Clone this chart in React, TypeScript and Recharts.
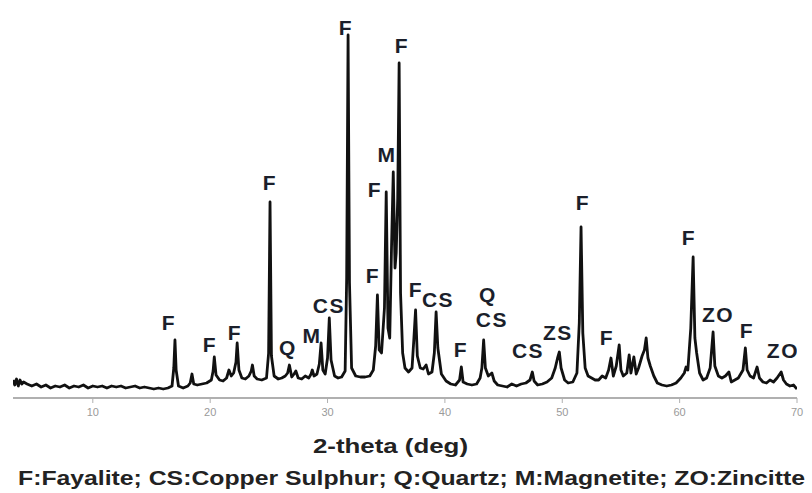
import React from "react";
import { ComposedChart, Line, Scatter, XAxis, YAxis } from "recharts";

// 2-theta positions (deg)
const twoTheta = [
  3.2, 3.35, 3.5, 3.65, 3.8, 3.95, 4.1, 4.4, 4.8, 5.2, 5.6, 6.0, 6.4,
  6.8, 7.2, 7.6, 8.0, 8.4, 8.8, 9.2, 9.6, 10.0, 10.4,
  10.8, 11.2, 11.6, 12.0, 12.4, 12.8, 13.2, 13.6, 14.0, 14.4,
  14.8, 15.2, 15.6, 16.0, 16.4, 16.75, 16.9, 17.0, 17.1, 17.3,
  17.7, 18.1, 18.3, 18.45, 18.6, 18.9, 19.3, 19.7, 20.1, 20.25,
  20.35, 20.5, 20.8, 21.1, 21.4, 21.6, 21.8, 22.0, 22.2, 22.3,
  22.45, 22.7, 23.0, 23.3, 23.5, 23.6, 23.75, 24.0, 24.4, 24.8,
  24.98, 25.1, 25.22, 25.45, 25.8, 26.1, 26.4, 26.6, 26.75, 26.95,
  27.15, 27.3, 27.5, 27.8, 28.1, 28.4, 28.6, 28.7, 28.85, 29.1,
  29.3, 29.45, 29.6, 29.8, 30.0, 30.15, 30.3, 30.6, 30.9, 31.2,
  31.5, 31.63, 31.75, 31.87, 32.05, 32.4, 32.8, 33.2, 33.6, 33.9,
  34.1, 34.25, 34.4, 34.6, 34.85, 35.0, 35.15, 35.3, 35.45, 35.6,
  35.75, 35.85, 35.98, 36.1, 36.22, 36.4, 36.6, 36.9, 37.2, 37.35,
  37.5, 37.65, 37.9, 38.15, 38.4, 38.6, 38.9, 39.1, 39.25, 39.4,
  39.7, 40.1, 40.5, 40.9, 41.25, 41.4, 41.55, 41.9, 42.3, 42.7,
  43.0, 43.15, 43.3, 43.45, 43.7, 44.0, 44.2, 44.5, 44.9, 45.3,
  45.7, 46.1, 46.5, 46.9, 47.25, 47.45, 47.6, 47.9, 48.3, 48.7,
  49.1, 49.4, 49.6, 49.75, 49.9, 50.2, 50.5, 50.9, 51.25, 51.45,
  51.6, 51.75, 51.95, 52.2, 52.5, 52.8, 53.1, 53.4, 53.7, 53.95,
  54.15, 54.35, 54.6, 54.85, 55.0, 55.2, 55.5, 55.7, 55.85, 56.1,
  56.3, 56.5, 56.8, 57.0, 57.15, 57.3, 57.5, 57.8, 58.1, 58.5,
  58.9, 59.3, 59.7, 60.1, 60.4, 60.55, 60.7, 60.95, 61.15, 61.3,
  61.45, 61.7, 62.0, 62.3, 62.6, 62.85, 63.0, 63.3, 63.6, 63.9,
  64.2, 64.4, 64.7, 65.0, 65.4, 65.6, 65.75, 66.0, 66.3, 66.6,
  66.8, 67.1, 67.4, 67.7, 68.0, 68.3, 68.65, 68.85, 69.1, 69.4,
  69.7, 70.0,
];

// Intensity (a.u.)
const intensity = [
  18, 13, 19, 12, 18, 14, 16, 14, 12, 14, 11, 13, 10,
  12, 11, 13, 10, 12, 11, 13, 10, 12, 11,
  12, 10, 12, 11, 12, 10, 11, 12, 10, 11,
  10, 9, 10, 9, 10, 12, 30, 58, 28, 12,
  10, 12, 15, 24, 14, 13, 14, 15, 18, 27,
  41, 23, 18, 17, 20, 28, 22, 25, 36, 55,
  28, 20, 19, 22, 27, 33, 22, 19, 18, 20,
  45, 196, 42, 22, 19, 20, 22, 25, 33, 21,
  24, 27, 20, 19, 22, 20, 24, 28, 22, 24,
  34, 55, 28, 24, 40, 80, 38, 22, 20, 21,
  27, 120, 363, 115, 30, 22, 21, 21, 22, 28,
  52, 103, 48, 45, 90, 206, 70, 60, 150, 226,
  130, 145, 200, 335, 105, 45, 30, 26, 30, 58,
  88, 42, 30, 29, 33, 24, 26, 45, 86, 50,
  24, 17, 14, 13, 18, 31, 16, 14, 13, 14,
  20, 30, 58, 30, 22, 25, 17, 13, 12, 11,
  14, 12, 14, 15, 18, 26, 17, 13, 14, 16,
  20, 30, 40, 46, 30, 18, 15, 16, 25, 75,
  171, 65, 30, 22, 20, 18, 18, 22, 20, 28,
  40, 22, 32, 53, 28, 22, 25, 43, 25, 41,
  24, 30, 42, 48, 60, 40, 32, 22, 15, 13,
  12, 13, 15, 20, 25, 31, 28, 70, 141, 60,
  45, 25, 18, 20, 30, 66, 32, 22, 20, 22,
  26, 16, 18, 20, 28, 50, 28, 22, 20, 31,
  20, 16, 15, 18, 16, 20, 26, 18, 14, 12,
  13, 9,
];

// Phase labels (text, 2-theta position, height)
const labelText = ["F", "F", "F", "F", "Q", "M", "CS", "F", "F", "F", "M", "F", "F", "CS", "F", "Q", "CS", "CS", "ZS", "F", "F", "F", "ZO", "F", "ZO"];
const labelTheta = [16.49, 19.98, 22.11, 25.1, 26.63, 28.67, 30.12, 31.57, 33.87, 34.04, 35.06, 36.34, 37.54, 39.41, 41.37, 43.67, 44.01, 47.08, 49.63, 51.76, 53.81, 60.8, 63.27, 65.74, 68.8];
const labelHeight = [68, 46, 58, 208, 43, 55, 85, 363, 115, 201, 236, 345, 101, 91, 41, 96, 71, 40, 58, 188, 53, 153, 76, 60, 40];

const xTicks = [10, 20, 30, 40, 50, 60, 70];

const scan = twoTheta.map((x, k) => ({ x, i: intensity[k] }));
const labels = labelText.map((t, k) => ({ x: labelTheta[k], y: labelHeight[k], t }));

const LabelShape = (props: any) => {
  const { cx, cy, payload } = props;
  return (
    <text
      x={cx}
      y={cy}
      textAnchor="middle"
      fontFamily="'Liberation Sans', Arial, sans-serif"
      fontWeight="bold"
      fontSize={21}
      letterSpacing={1.5}
      fill="#1b1f2b"
    >
      {payload.t}
    </text>
  );
};

export default function App() {
  return (
    <div style={{ position: "absolute", left: 0, top: 0, width: 812, height: 493, background: "#fff" }}>
      <ComposedChart
        width={812}
        height={493}
        margin={{ top: 18, right: 15, left: 13, bottom: 65 }}
      >
        <XAxis
          dataKey="x"
          type="number"
          domain={[3.2, 70]}
          ticks={xTicks}
          allowDataOverflow
          axisLine={{ stroke: "#b0b0b0", strokeWidth: 2 }}
          tickLine={{ stroke: "#b0b0b0" }}
          tickSize={5}
          tickMargin={5}
          tick={{ fill: "#9a9a9a", fontSize: 11, fontFamily: "'Liberation Sans', Arial, sans-serif" }}
          height={30}
        />
        <YAxis type="number" domain={[0, 380]} hide allowDataOverflow />
        <Line
          data={scan}
          dataKey="i"
          type="linear"
          stroke="#111"
          strokeWidth={2.8}
          dot={false}
          isAnimationActive={false}
          strokeLinejoin="round"
        />
        <Scatter data={labels} dataKey="y" shape={LabelShape} isAnimationActive={false} />
      </ComposedChart>
      <svg width={812} height={493} style={{ position: "absolute", left: 0, top: 0, pointerEvents: "none" }}>
        <text
          x={313}
          y={453}
          fontFamily="'Liberation Sans', Arial, sans-serif"
          fontWeight="bold"
          fontSize={21}
          fill="#222"
          textLength={155}
          lengthAdjust="spacingAndGlyphs"
        >
          2-theta (deg)
        </text>
        <text
          x={18}
          y={485}
          fontFamily="'Liberation Sans', Arial, sans-serif"
          fontWeight="bold"
          fontSize={21}
          fill="#222"
          textLength={787}
          lengthAdjust="spacingAndGlyphs"
        >
          F:Fayalite; CS:Copper Sulphur; Q:Quartz; M:Magnetite; ZO:Zincitte
        </text>
      </svg>
    </div>
  );
}
